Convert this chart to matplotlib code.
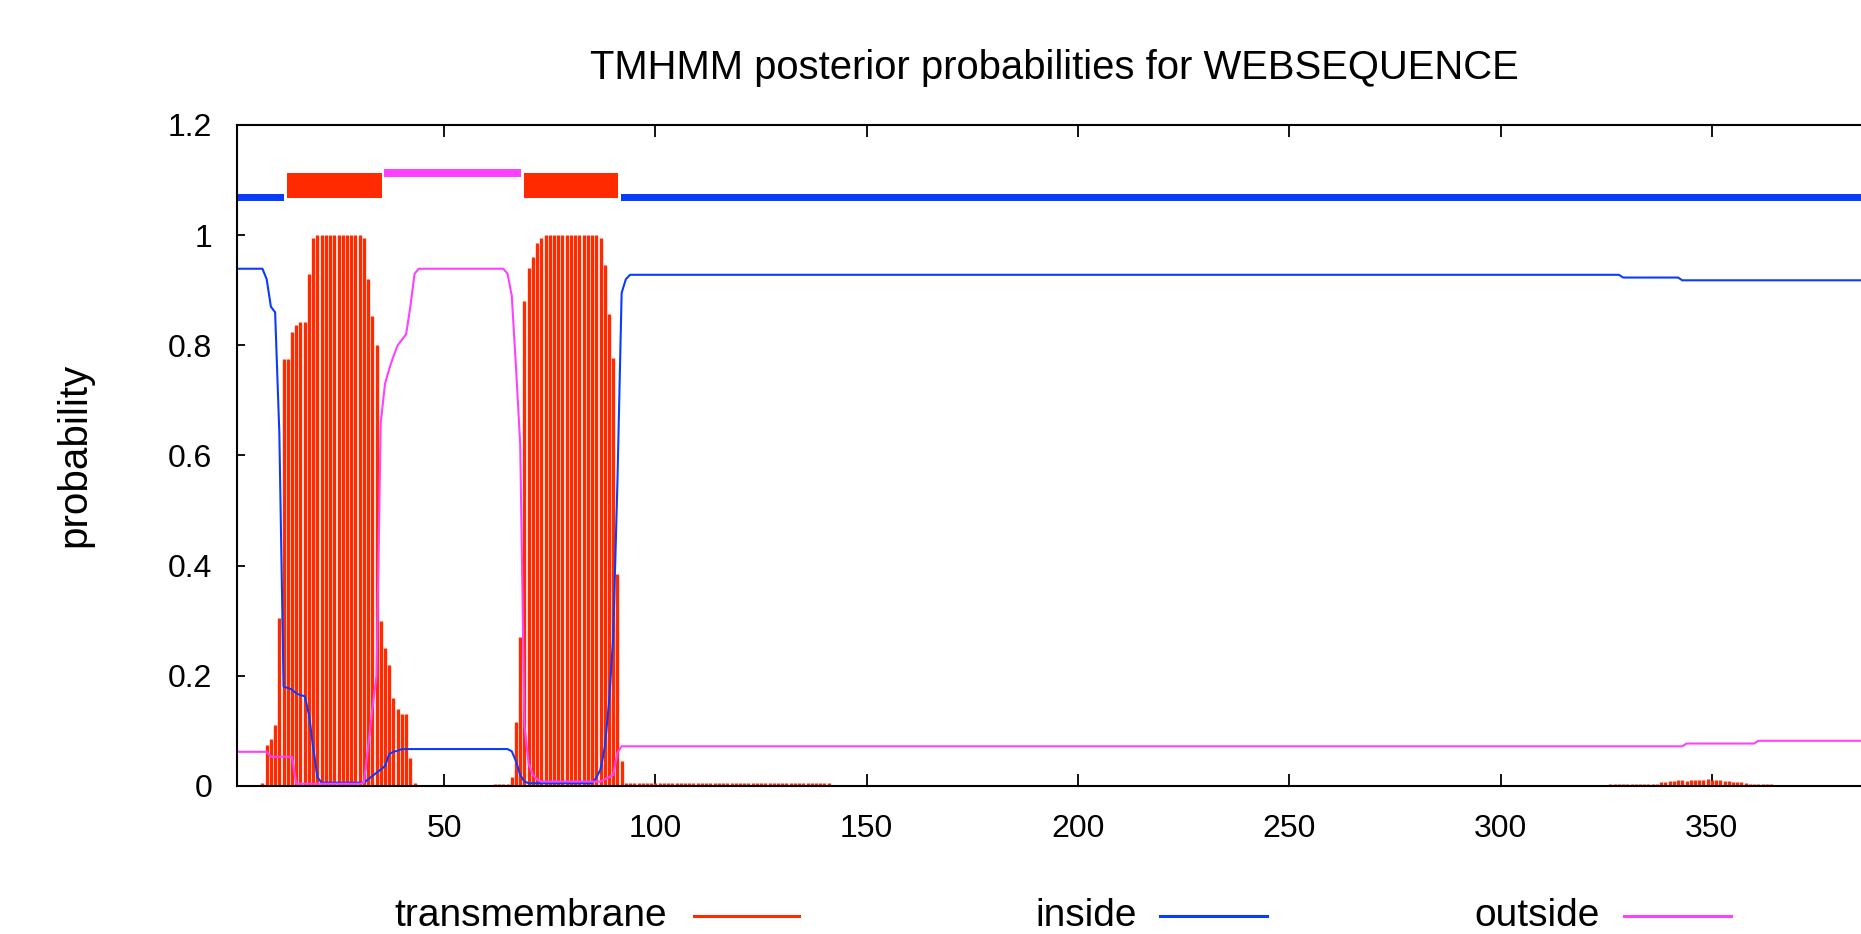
import numpy as np
import matplotlib
matplotlib.use("Agg")
from matplotlib import pyplot as plt
from matplotlib.lines import Line2D

plt.rcParams['font.family'] = ['Liberation Sans', 'DejaVu Sans']

# posterior probabilities per residue
tm = ([0] * 6
      + [0.005, 0.075, 0.085, 0.11, 0.305, 0.776, 0.776, 0.824, 0.836, 0.843, 0.843, 0.929, 0.994]
      + [1.0] * 11
      + [0.994, 0.92, 0.853, 0.80, 0.30, 0.25, 0.22, 0.16, 0.14, 0.13, 0.13, 0.05, 0.006]
      + [0] * 18
      + [0.004] * 4
      + [0.016, 0.117, 0.27, 0.88, 0.94, 0.96, 0.985, 0.995]
      + [1.0] * 13
      + [0.994, 0.946, 0.857, 0.777, 0.385, 0.045]
      + [0.005] * 49
      + [0] * 184
      + [0.004] * 12
      + [0.007, 0.008, 0.009, 0.009, 0.010, 0.010, 0.009, 0.010, 0.011, 0.010, 0.010,
         0.012, 0.011, 0.010, 0.010, 0.009, 0.009, 0.008, 0.008, 0.007, 0.006]
      + [0.004] * 6
      + [0] * 36)

inside = ([0.939] * 7
          + [0.92, 0.87, 0.86, 0.64, 0.18, 0.178, 0.175, 0.168, 0.165, 0.163, 0.13, 0.07, 0.016]
          + [0.006] * 11
          + [0.012, 0.018, 0.024, 0.03, 0.036, 0.058, 0.062, 0.064]
          + [0.067] * 26
          + [0.063, 0.045, 0.02, 0.008]
          + [0.005] * 16
          + [0.015, 0.03, 0.07, 0.15, 0.27, 0.55, 0.895, 0.92]
          + [0.928] * 235
          + [0.923] * 14
          + [0.918] * 58)

outside = ([0.062] * 8
           + [0.053] * 6
           + [0.004] * 16
           + [0.006, 0.07, 0.14, 0.20, 0.66, 0.73, 0.757, 0.78, 0.80, 0.81, 0.82, 0.87, 0.93]
           + [0.939] * 21
           + [0.93, 0.89, 0.76, 0.62, 0.11, 0.04, 0.02, 0.012]
           + [0.008] * 15
           + [0.012, 0.016, 0.02, 0.06, 0.072]
           + [0.072] * 251
           + [0.077] * 17
           + [0.082] * 40)

# predicted topology (label, first residue, last residue)
segments = [("inside", 1, 12), ("TMhelix", 13, 35), ("outside", 36, 68),
            ("TMhelix", 69, 91), ("inside", 92, 400)]

xtick_vals = [50, 100, 150, 200, 250, 300, 350]

seq_len = len(tm)
res = np.arange(1, seq_len + 1)

c_tm = '#ff2a00'
c_in = '#0a3cff'
c_out = '#ff40ff'

fig = plt.figure(figsize=(18.61, 9.34), dpi=100)
ax = fig.add_axes([0.1274, 0.1585, 0.906, 0.7077])

tm = np.array(tm)
mask = tm > 0
ax.vlines(res[mask], 0, tm[mask], colors=c_tm, lw=2.4)
ax.plot(res, inside, color=c_in, lw=1.5)
ax.plot(res, outside, color=c_out, lw=1.5)

# topology bars on top
for name, a, b in segments:
    x0, w = a - 0.2, b - a + 0.4
    if name == "TMhelix":
        ax.broken_barh([(x0, w)], (1.067, 0.046), facecolors=c_tm)
    elif name == "inside":
        ax.broken_barh([(x0, w)], (1.062, 0.012), facecolors=c_in)
    else:
        ax.broken_barh([(x0, w)], (1.106, 0.014), facecolors=c_out)

ax.set_xlim(1, seq_len)
ax.set_ylim(0, 1.2)
ax.set_xticks(xtick_vals)
ax.set_yticks([0, 0.2, 0.4, 0.6, 0.8, 1.0, 1.2])
ax.set_yticklabels(['0', '0.2', '0.4', '0.6', '0.8', '1', '1.2'])
ax.tick_params(axis='x', direction='in', top=True, length=8.5, width=1.3,
               labelsize=23, pad=20)
ax.tick_params(axis='y', direction='in', right=False, length=6, width=1.3,
               labelsize=23, pad=18)
for s in ['left', 'bottom', 'top']:
    ax.spines[s].set_linewidth(1.5)
ax.spines['right'].set_visible(False)

fig.text(1054 / 1861, 1 - 68 / 934, 'TMHMM posterior probabilities for WEBSEQUENCE',
         ha='center', va='center', fontsize=28.8)
fig.text(74 / 1861, 1 - 455 / 934, 'probability', rotation=90,
         ha='center', va='center', fontsize=29)

# legend along the bottom
legend_items = [('transmembrane', c_tm, 667, 694, 799),
                ('inside', c_in, 1137, 1160, 1267),
                ('outside', c_out, 1600, 1624, 1731)]
ly = 1 - 916 / 934
for label, col, tx, l0, l1 in legend_items:
    fig.text(tx / 1861, ly, label, ha='right', va='center', fontsize=28)
    fig.add_artist(Line2D([l0 / 1861, l1 / 1861], [ly, ly], color=col, lw=2.2,
                          transform=fig.transFigure))

fig.savefig('out.png', dpi=100)
